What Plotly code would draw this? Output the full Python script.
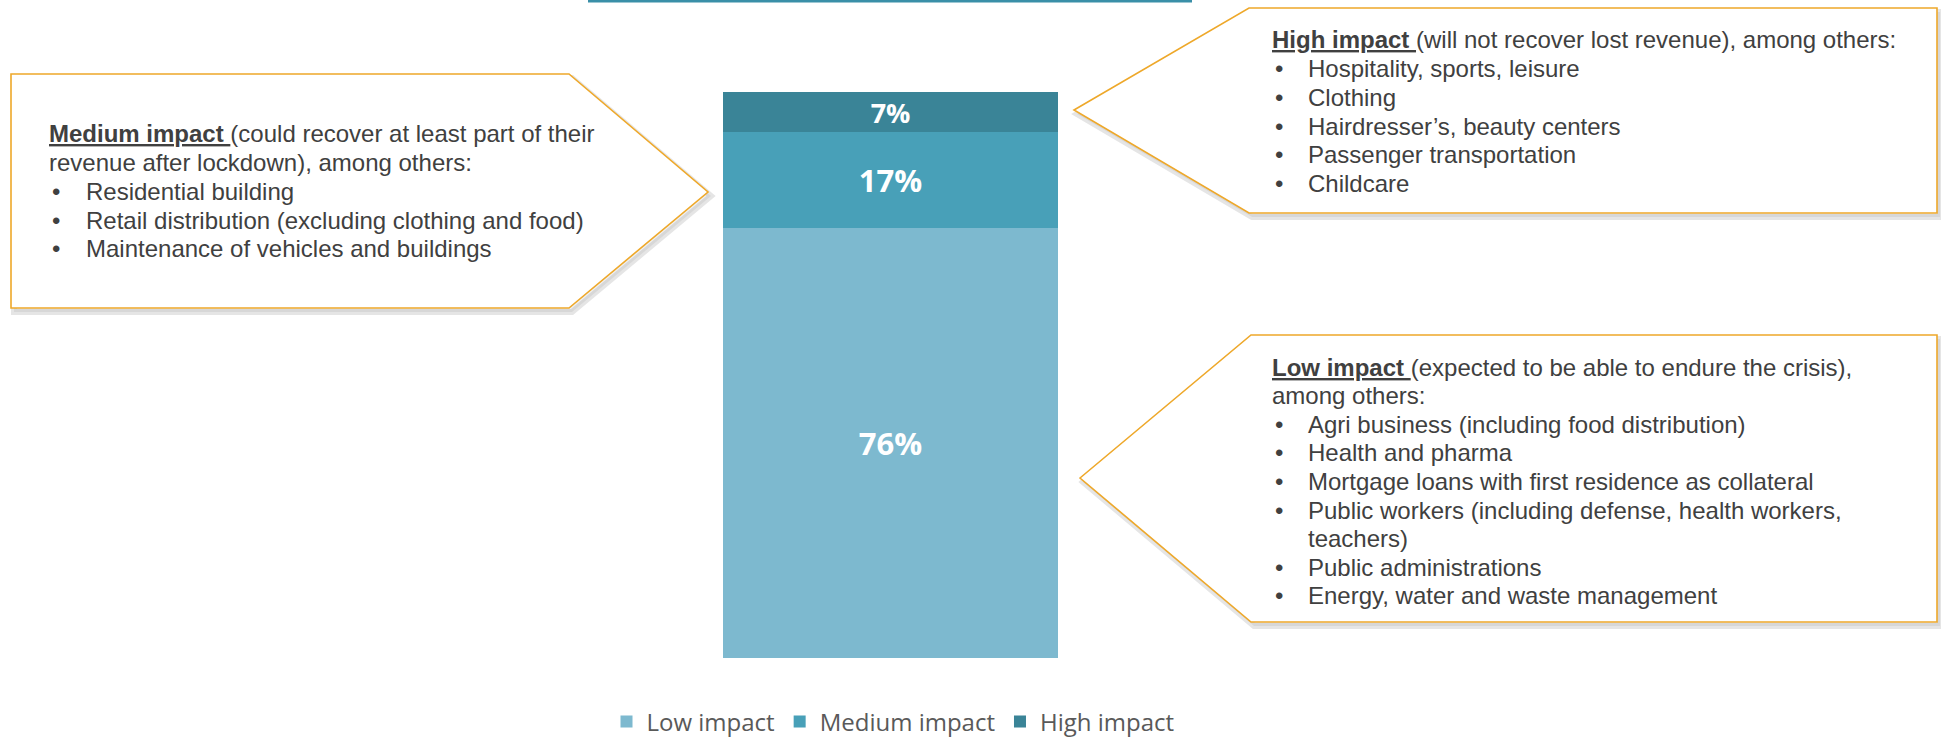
import plotly.graph_objects as go

W, H = 1941, 739

# ---------------- data ----------------
categories = ["Portfolio"]
series_names = ["Low impact", "Medium impact", "High impact"]
series_values = [76, 17, 7]

medium_title = "Medium impact "
medium_intro = ["(could recover at least part of their", "revenue after lockdown), among others:"]
medium_bullets = [["Residential building"],
                  ["Retail distribution (excluding clothing and food)"],
                  ["Maintenance of vehicles and buildings"]]

high_title = "High impact "
high_intro = ["(will not recover lost revenue), among others:"]
high_bullets = [["Hospitality, sports, leisure"], ["Clothing"],
                ["Hairdresser’s, beauty centers"], ["Passenger transportation"],
                ["Childcare"]]

low_title = "Low impact "
low_intro = ["(expected to be able to endure the crisis),", "among others:"]
low_bullets = [["Agri business (including food distribution)"],
               ["Health and pharma"],
               ["Mortgage loans with first residence as collateral"],
               ["Public workers (including defense, health workers,", "teachers)"],
               ["Public administrations"],
               ["Energy, water and waste management"]]

# ---------------- styles ----------------
series_colors = ["#7DB9CF", "#48A0B8", "#3A8497"]
label_sizes = [31, 31, 27]
TEXT_FONT = "Liberation Sans Narrow, Arial Narrow, Liberation Sans, Arial, sans-serif"
TEXT_COLOR = "#404040"
BORDER = "#EEA82A"


def px(x):
    return x / W


def py(y):
    return 1 - y / H


fig = go.Figure()
for name, val, col, fs in zip(series_names, series_values, series_colors, label_sizes):
    fig.add_trace(go.Bar(
        x=categories, y=[val], name=name, marker=dict(color=col, line=dict(width=0)),
        text=[f"{val}%"], textposition="inside", insidetextanchor="middle",
        constraintext="none",
        textfont=dict(family="Open Sans, sans-serif", size=fs, color="white", weight="bold"),
        hoverinfo="skip",
    ))

shapes = []
annotations = []


def callout(points):
    path = "M " + " L ".join(f"{px(x)},{py(y)}" for x, y in points) + " Z"
    spath = "M " + " L ".join(f"{px(x + 3)},{py(y + 4)}" for x, y in points) + " Z"
    shapes.append(dict(type="path", xref="paper", yref="paper", path=spath,
                       line=dict(color="rgba(0,0,0,0.10)", width=6), fillcolor="rgba(0,0,0,0.06)",
                       layer="below"))
    shapes.append(dict(type="path", xref="paper", yref="paper", path=path,
                       line=dict(color=BORDER, width=1.6), fillcolor="white", layer="below"))


def text_block(title, intro, bullets, x0, bx, tx, y0, step):
    lines = []
    first = f"<b><u>{title}</u></b>{intro[0]}"
    lines.append((x0, first, False))
    for t in intro[1:]:
        lines.append((x0, t, False))
    for b in bullets:
        for i, t in enumerate(b):
            lines.append((tx, t, i == 0))
    y = y0
    for x, t, has_bullet in lines:
        if has_bullet:
            annotations.append(dict(xref="paper", yref="paper", x=px(bx), y=py(y), text="•",
                                    showarrow=False, xanchor="left", yanchor="middle",
                                    font=dict(family=TEXT_FONT, size=24, color=TEXT_COLOR)))
        annotations.append(dict(xref="paper", yref="paper", x=px(x), y=py(y), text=t,
                                showarrow=False, xanchor="left", yanchor="middle",
                                font=dict(family=TEXT_FONT, size=24, color=TEXT_COLOR)))
        y += step


callout([(11, 74), (569, 74), (708, 192), (569, 308), (11, 308)])
callout([(1074, 110), (1249, 8), (1937, 8), (1937, 213), (1249, 213)])
callout([(1080, 478), (1251, 335), (1937, 335), (1937, 622), (1251, 622)])

text_block(medium_title, medium_intro, medium_bullets, 47, 50, 84, 134, 28.7)
text_block(high_title, high_intro, high_bullets, 1270, 1273, 1306, 40, 28.7)
text_block(low_title, low_intro, low_bullets, 1270, 1273, 1306, 367, 28.6)

# top rule
shapes.append(dict(type="line", xref="paper", yref="paper", x0=px(588), x1=px(1192),
                   y0=py(1), y1=py(1), line=dict(color="#3A8FA8", width=3)))

fig.update_layout(
    width=W, height=H, margin=dict(l=0, r=0, t=0, b=0, autoexpand=False),
    paper_bgcolor="white", plot_bgcolor="white",
    barmode="stack", bargap=0,
    xaxis=dict(domain=[px(723), px(1058)], range=[-0.5, 0.5], visible=False, fixedrange=True),
    yaxis=dict(domain=[py(658), py(92)], range=[0, 100], visible=False, fixedrange=True),
    shapes=shapes, annotations=annotations,
    showlegend=True,
    legend=dict(orientation="h", x=px(893), xanchor="center", y=py(722), yanchor="middle",
                traceorder="normal", font=dict(family="Open Sans, sans-serif", size=24, color="#595959"),
                bgcolor="rgba(0,0,0,0)"),
)

css_fix = (
    "var s='margin:0;padding:0;overflow:hidden;width:1941px;height:739px;';"
    "document.documentElement.style.cssText=s;document.body.style.cssText=s;"
)
fig.write_html("out.html", config={"displayModeBar": False}, post_script=css_fix)
